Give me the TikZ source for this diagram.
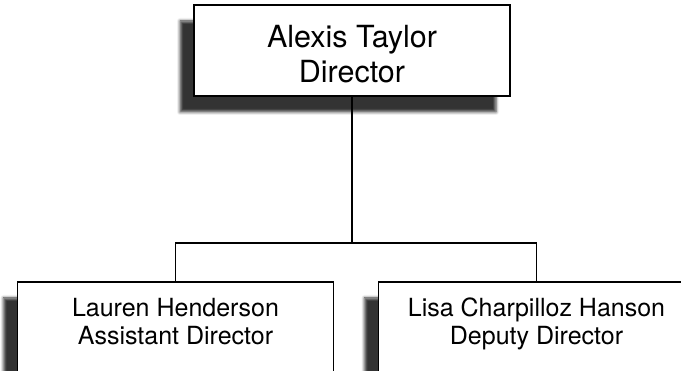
\documentclass[tikz,border=0pt]{standalone}
\usepackage{fontspec}
\setmainfont{TeX Gyre Heros}
\usetikzlibrary{shadows.blur}
\tikzset{
  person/.style={draw=black,line width=1.6pt,fill=white,minimum width=316pt,minimum height=91pt,
    align=center,inner sep=0pt,
    blur shadow={shadow xshift=-14pt,shadow yshift=-16pt,shadow blur radius=3pt,shadow opacity=80}},
  chief/.style={person,font=\fontsize{30.5}{35}\selectfont,text height=64pt,text depth=0pt},
  staff/.style={person,font=\fontsize{25}{28}\selectfont,text height=46pt,text depth=11pt},
  link/.style={line width=1.2pt}
}
\begin{document}
\begin{tikzpicture}[x=1pt,y=1pt]
\useasboundingbox (0,0) rectangle (681,371);
\clip (0,0) rectangle (681,371);
\node[chief] (director) at (352,320.5) {Alexis Taylor\\Director};
\node[staff] (assistant) at (175.5,43.5) {Lauren Henderson\\Assistant Director};
\node[staff] (deputy) at (536.5,43.5) {Lisa Charpilloz Hanson\\Deputy Director};
\coordinate (split) at (352,128);
\draw[link] (director.south) -- (split);
\draw[link] (assistant.north) |- (split) -| (deputy.north);
\end{tikzpicture}
\end{document}
